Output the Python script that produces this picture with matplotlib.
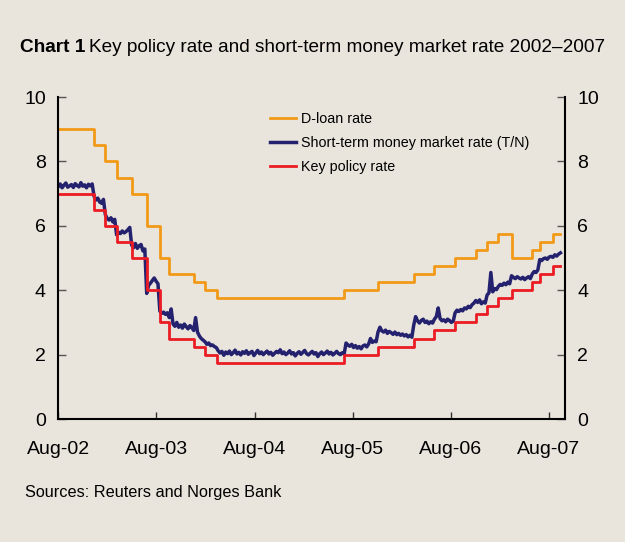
import matplotlib
matplotlib.use('Agg')
import matplotlib.pyplot as plt
import pandas as pd

plt.rcParams['font.family'] = ['Liberation Sans', 'DejaVu Sans']

# rate change dates (the last entry only closes the step line)
change_dates = ['2002-08-01', '2002-12-12', '2003-01-23', '2003-03-06', '2003-05-01',
                '2003-06-26', '2003-08-14', '2003-09-18', '2003-12-18', '2004-01-29',
                '2004-03-12', '2005-07-01', '2005-11-03', '2006-03-16', '2006-06-01',
                '2006-08-17', '2006-11-02', '2006-12-14', '2007-01-25', '2007-03-15',
                '2007-05-31', '2007-06-28', '2007-08-16', '2007-09-13']
policy_rate = [7.0, 6.5, 6.0, 5.5, 5.0, 4.0, 3.0, 2.5, 2.25, 2.0,
               1.75, 2.0, 2.25, 2.5, 2.75, 3.0, 3.25, 3.5, 3.75, 4.0,
               4.25, 4.5, 4.75, 4.75]
dloan_rate = [9.0, 8.5, 8.0, 7.5, 7.0, 6.0, 5.0, 4.5, 4.25, 4.0,
              3.75, 4.0, 4.25, 4.5, 4.75, 5.0, 5.25, 5.5, 5.75, 5.0,
              5.25, 5.5, 5.75, 5.75]

# T/N rate, weekly readings from 1 Aug 2002
tn_start = '2002-08-01'
tn_rate = [
    7.22, 7.30, 7.18, 7.26, 7.33, 7.20, 7.24, 7.28, 7.19, 7.31, 7.25, 7.21, 7.34, 7.23, 7.27, 7.18, 7.29, 7.24, 7.30,
    6.92, 6.80, 6.86, 6.74, 6.70, 6.82,
    6.35, 6.22, 6.18, 6.25, 6.12, 6.20,
    5.72, 5.80, 5.76, 5.84, 5.78, 5.82, 5.88, 5.95,
    5.40, 5.32, 5.45, 5.30, 5.38, 5.42, 5.22, 5.28,
    3.90, 4.15, 4.22, 4.30, 4.38, 4.28, 4.20,
    3.35, 3.28, 3.32, 3.25, 3.30,
    3.15, 3.42, 2.95, 2.88, 3.00, 2.85, 2.92, 2.82, 2.95, 2.87, 2.80, 2.90, 2.84,
    2.75, 3.15, 2.70, 2.58, 2.50, 2.45,
    2.40, 2.32, 2.36, 2.28, 2.30, 2.25, 2.22,
    2.12, 2.05, 2.10, 1.98, 2.08, 2.03, 2.11, 2.00, 2.06, 2.14, 2.02, 2.07, 1.99, 2.09, 2.04, 2.12, 2.01, 2.06, 2.10, 1.97,
    2.05, 2.13, 2.03, 2.08, 2.00, 2.06, 2.11, 2.02, 2.07, 1.98, 2.04, 2.10, 2.06, 2.15, 2.03, 2.08, 2.00, 2.05, 2.12, 2.02,
    2.06, 1.96, 2.04, 2.09, 2.01, 2.07, 2.13, 2.03, 1.99, 2.05, 2.10, 2.02, 2.06, 1.94, 2.03, 2.08, 2.00, 2.05, 2.11, 2.02,
    2.07, 1.99, 2.04, 2.10, 2.03, 2.00, 2.06, 2.02,
    2.36, 2.30, 2.26, 2.32, 2.22, 2.28, 2.20, 2.25, 2.18, 2.27, 2.30, 2.24, 2.33, 2.50, 2.38, 2.42, 2.40,
    2.70, 2.85, 2.74, 2.70, 2.76, 2.66, 2.72, 2.68, 2.63, 2.70, 2.62, 2.66, 2.60, 2.64, 2.58, 2.62, 2.55, 2.60, 2.54,
    2.92, 3.18, 3.05, 2.98, 3.06, 3.10, 3.00, 3.04, 2.96, 3.02, 2.98,
    3.10, 3.18, 3.45, 3.12, 3.05, 3.08, 3.02, 3.10, 3.06, 3.00, 3.04,
    3.30, 3.38, 3.34, 3.40, 3.36, 3.45, 3.42, 3.50, 3.46, 3.55, 3.60,
    3.68, 3.62, 3.70, 3.58, 3.64, 3.60,
    3.85, 3.92, 4.55, 3.95, 4.05, 4.02,
    4.12, 4.18, 4.15, 4.22, 4.17, 4.25, 4.20,
    4.45, 4.40, 4.36, 4.42, 4.38, 4.35, 4.40, 4.33, 4.38, 4.42, 4.36,
    4.50, 4.58, 4.55, 4.63,
    4.95, 4.92, 4.98, 5.00, 4.96, 5.03, 5.05,
    5.02, 5.10, 5.06, 5.12, 5.16,
]

tick_dates = ['2002-08-01', '2003-08-01', '2004-08-01', '2005-08-01', '2006-08-01', '2007-08-01']
tick_labels = ['Aug-02', 'Aug-03', 'Aug-04', 'Aug-05', 'Aug-06', 'Aug-07']

BG = '#e9e4dc'
ORANGE = '#f29a17'
NAVY = '#24226e'
RED = '#ec1c24'

fig = plt.figure(figsize=(6.25, 5.42), dpi=100, facecolor=BG)
ax = fig.add_axes([0.0933, 0.2269, 0.8107, 0.5941], facecolor=BG)

cd = pd.to_datetime(change_dates)
tn_dates = pd.date_range(tn_start, periods=len(tn_rate), freq='7D')

ax.step(cd, dloan_rate, where='post', color=ORANGE, lw=2.0, label='D-loan rate')
ax.plot(tn_dates, tn_rate, color=NAVY, lw=2.5, label='Short-term money market rate (T/N)')
ax.step(cd, policy_rate, where='post', color=RED, lw=2.0, label='Key policy rate')

ax.set_xlim(pd.Timestamp('2002-08-01'), pd.Timestamp('2007-09-30'))
ax.set_ylim(0, 10)
ax.set_yticks(range(0, 11, 2))
ax.set_xticks(pd.to_datetime(tick_dates))
ax.set_xticklabels(tick_labels)

for s in ax.spines.values():
    s.set_linewidth(1.5)
    s.set_color('black')
ax.spines['top'].set_visible(False)

ax.tick_params(axis='y', direction='in', length=5.5, width=1, color='#555555',
               left=True, right=True, labelleft=True, labelright=True,
               labelsize=14, pad=9)
ax.tick_params(axis='x', direction='in', length=5, width=1, color='#333333',
               labelsize=14, pad=16)

ax.legend(loc='upper left', bbox_to_anchor=(0.4175, 0.955), frameon=False,
          fontsize=10.3, handlelength=1.85, handletextpad=0.35, labelspacing=0.7,
          borderpad=0, borderaxespad=0)

# title: bold "Chart 1" followed by plain text
t1 = fig.text(20 / 625, 1 - 47 / 542, 'Chart 1', fontsize=13.7, weight='bold', va='center')
fig.canvas.draw()
bb = t1.get_window_extent()
fig.text(bb.x1 / fig.bbox.width + 4 / 625, 1 - 47 / 542,
         'Key policy rate and short-term money market rate 2002\u20132007',
         fontsize=13.7, va='center')

fig.text(25 / 625, 1 - 493 / 542, 'Sources: Reuters and Norges Bank', fontsize=11.7, va='center')

fig.savefig('out.png', dpi=100, facecolor=BG)
